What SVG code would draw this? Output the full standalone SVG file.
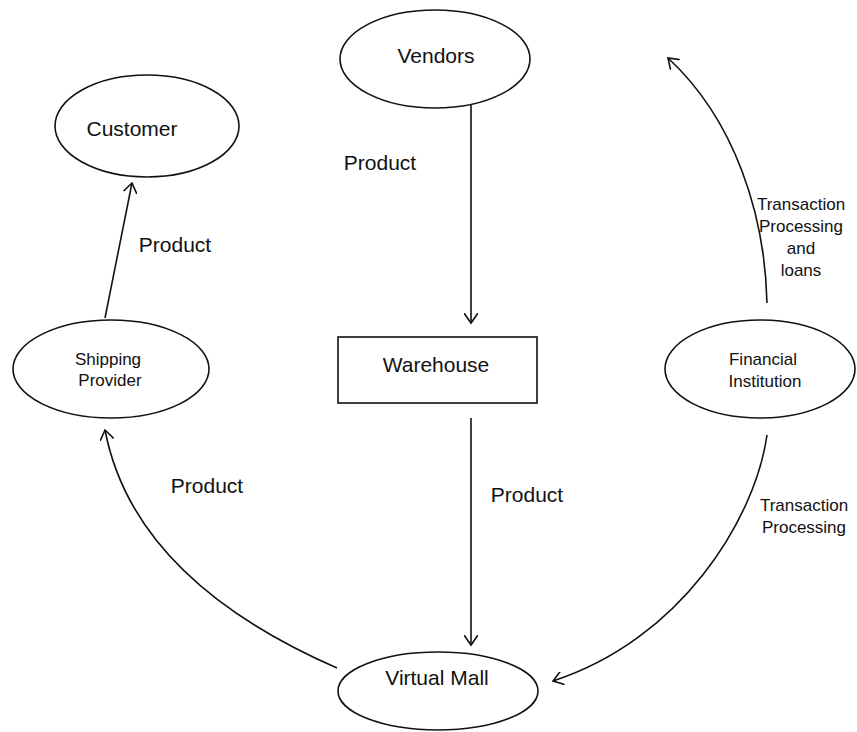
<svg xmlns="http://www.w3.org/2000/svg" width="857" height="732" viewBox="0 0 857 732">
  <style>
    .shape { fill: #ffffff; stroke: #111111; stroke-width: 1.6; }
    .edge { fill: none; stroke: #111111; stroke-width: 1.6; }
    .lbl { font-family: "Liberation Sans", Arial, sans-serif; font-size: 21px; fill: #111111; text-anchor: middle; }
    .sm { font-family: "Liberation Sans", Arial, sans-serif; font-size: 17px; fill: #111111; text-anchor: middle; }
  </style>
  <defs>
    <marker id="arrow" markerUnits="userSpaceOnUse" markerWidth="12" markerHeight="14" refX="10" refY="7" orient="auto">
      <path d="M0,0 L10,7 L0,14" fill="none" stroke="#111111" stroke-width="1.6"/>
    </marker>
  </defs>
  <rect width="857" height="732" fill="#ffffff"/>

  <g id="connectors">
    <path class="edge" d="M471,105 L471,323" marker-end="url(#arrow)"/>
    <path class="edge" d="M471,418 L471,645" marker-end="url(#arrow)"/>
    <path class="edge" d="M105,318 L132,183" marker-end="url(#arrow)"/>
    <path class="edge" d="M337,668 C250,630 130,560 105,430" marker-end="url(#arrow)"/>
    <path class="edge" d="M767,303 C765,215 735,120 668,58" marker-end="url(#arrow)"/>
    <path class="edge" d="M767,435 C755,520 680,640 553,681" marker-end="url(#arrow)"/>
    <text class="lbl" x="380" y="170">Product</text>
    <text class="lbl" x="175" y="252">Product</text>
    <text class="lbl" x="207" y="493">Product</text>
    <text class="lbl" x="527" y="502">Product</text>
    <text class="sm" x="801" y="210">Transaction</text>
    <text class="sm" x="801" y="232">Processing</text>
    <text class="sm" x="801" y="254">and</text>
    <text class="sm" x="801" y="276">loans</text>
    <text class="sm" x="804" y="511">Transaction</text>
    <text class="sm" x="804" y="533">Processing</text>
  </g>

  <g id="vendors">
    <ellipse class="shape" cx="435" cy="59" rx="95" ry="49"/>
    <text class="lbl" x="436" y="63">Vendors</text>
  </g>
  <g id="customer">
    <ellipse class="shape" cx="147" cy="126" rx="92" ry="51"/>
    <text class="lbl" x="132" y="136">Customer</text>
  </g>
  <g id="shipping-provider">
    <ellipse class="shape" cx="111" cy="369" rx="98" ry="49"/>
    <text class="sm" x="108" y="365">Shipping</text>
    <text class="sm" x="110" y="386">Provider</text>
  </g>
  <g id="warehouse">
    <rect class="shape" x="338" y="337" width="199" height="66"/>
    <text class="lbl" x="436" y="372">Warehouse</text>
  </g>
  <g id="financial-institution">
    <ellipse class="shape" cx="760" cy="369" rx="95" ry="49"/>
    <text class="sm" x="763" y="365">Financial</text>
    <text class="sm" x="765" y="387">Institution</text>
  </g>
  <g id="virtual-mall">
    <ellipse class="shape" cx="438" cy="691" rx="100" ry="39"/>
    <text class="lbl" x="437" y="685">Virtual Mall</text>
  </g>
</svg>
